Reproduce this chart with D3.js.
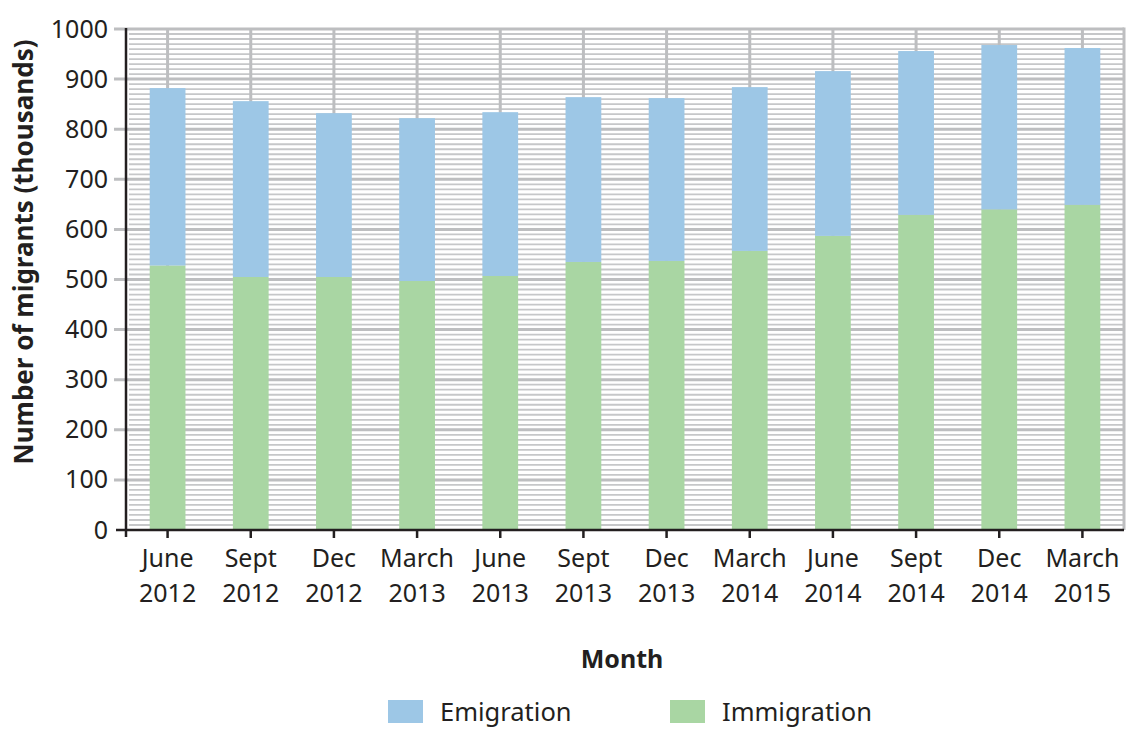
<!DOCTYPE html>
<html>
<head>
<meta charset="utf-8">
<script src="https://cdn.jsdelivr.net/npm/d3@7"></script>
<style>
  body { margin: 0; background: #fff; }
  svg { font-family: "Noto Sans", "Open Sans", sans-serif; }
</style>
</head>
<body>
<div class="chart"></div>
<script>
let months = ["June", "Sept", "Dec", "March", "June", "Sept", "Dec", "March", "June", "Sept", "Dec", "March"];
let years = ["2012", "2012", "2012", "2013", "2013", "2013", "2013", "2014", "2014", "2014", "2014", "2015"];
let immigration = [528, 505, 505, 497, 507, 535, 537, 557, 587, 629, 640, 649];
let emigration = [354, 351, 327, 325, 327, 329, 325, 327, 329, 327, 328, 313];
let yTicks = [0, 100, 200, 300, 400, 500, 600, 700, 800, 900, 1000];
let seriesNames = ["Emigration", "Immigration"];
let seriesColors = ["#9dc7e6", "#a9d6a3"];

let w = 1127;
let h = 731;
let plotLeft = 126, plotRight = 1124, plotTop = 29, plotBottom = 530;

let keys = months.map((m, i) => i);

let xScale = d3.scaleBand()
    .domain(keys)
    .range([plotLeft, plotRight])
    .paddingInner(0.57)
    .paddingOuter(0.285);

let yScale = d3.scaleLinear()
    .domain([0, 1000])
    .range([plotBottom, plotTop]);

const svg = d3.select(".chart")
    .append("svg")
    .attr("width", w)
    .attr("height", h);

// minor grid every 10
let minor = d3.range(10, 1000, 10).filter(v => v % 100 !== 0);
svg.append("g")
    .selectAll("line")
    .data(minor)
    .enter()
    .append("line")
    .attr("x1", plotLeft + 3)
    .attr("x2", plotRight)
    .attr("y1", d => yScale(d))
    .attr("y2", d => yScale(d))
    .attr("stroke", "#c6c7c9")
    .attr("stroke-width", 1.8);

// major grid
svg.append("g")
    .selectAll("line")
    .data(yTicks.slice(1))
    .enter()
    .append("line")
    .attr("x1", plotLeft - 12)
    .attr("x2", plotRight)
    .attr("y1", d => yScale(d))
    .attr("y2", d => yScale(d))
    .attr("stroke", "#bdbec0")
    .attr("stroke-width", 3);

// vertical grid at category centres + right edge
svg.append("g")
    .selectAll("line")
    .data(keys)
    .enter()
    .append("line")
    .attr("x1", d => xScale(d) + xScale.bandwidth() / 2)
    .attr("x2", d => xScale(d) + xScale.bandwidth() / 2)
    .attr("y1", yScale(1000))
    .attr("y2", yScale(0))
    .attr("stroke", "#bdbec0")
    .attr("stroke-width", 3);

svg.append("line")
    .attr("x1", plotRight).attr("x2", plotRight)
    .attr("y1", yScale(1000) - 1.5).attr("y2", yScale(0))
    .attr("stroke", "#bdbec0")
    .attr("stroke-width", 3);

// stacked bars
let stackData = keys.map(i => ({ key: i, Immigration: immigration[i], Emigration: emigration[i] }));
let stacked = d3.stack().keys(["Immigration", "Emigration"])(stackData);
let colorOf = d3.scaleOrdinal().domain(seriesNames).range(seriesColors);

svg.append("g")
    .selectAll("g")
    .data(stacked)
    .enter()
    .append("g")
    .attr("fill", d => colorOf(d.key))
    .selectAll("rect")
    .data(d => d)
    .enter()
    .append("rect")
    .attr("x", d => xScale(d.data.key))
    .attr("y", d => yScale(d[1]))
    .attr("width", xScale.bandwidth())
    .attr("height", d => yScale(d[0]) - yScale(d[1]));

// axes
const yAxis = d3.axisLeft(yScale)
    .tickValues(yTicks)
    .tickFormat(d3.format("d"))
    .tickSize(0)
    .tickPadding(18);

let gy = svg.append("g")
    .attr("transform", `translate(${plotLeft}, 0)`)
    .call(yAxis);
gy.select(".domain").attr("stroke", "#231f20").attr("stroke-width", 2.5)
    .attr("d", `M0,${plotTop - 1}V${plotBottom + 7}`);
gy.selectAll("text")
    .attr("font-size", 25)
    .attr("fill", "#231f20")
    .attr("font-family", "Noto Sans");

const xAxis = d3.axisBottom(xScale)
    .tickSize(8)
    .tickSizeOuter(0)
    .tickFormat("");

let gx = svg.append("g")
    .attr("transform", `translate(0, ${plotBottom})`)
    .call(xAxis);
gx.select(".domain").attr("stroke", "#231f20").attr("stroke-width", 2.5)
    .attr("d", `M${plotLeft - 10},0H${plotRight}`);
gx.selectAll(".tick line").attr("stroke", "#231f20").attr("stroke-width", 2.5);

let labels = gx.selectAll(".tick")
    .append("text")
    .attr("fill", "#231f20")
    .attr("font-size", 25)
    .attr("font-family", "Noto Sans")
    .attr("text-anchor", "middle");
labels.append("tspan").attr("x", 0).attr("y", 37).text(d => months[d]);
labels.append("tspan").attr("x", 0).attr("y", 72).text(d => years[d]);

// titles
svg.append("text")
    .attr("transform", "rotate(-90)")
    .attr("x", -252)
    .attr("y", 33)
    .attr("text-anchor", "middle")
    .attr("font-size", 26)
    .attr("font-weight", "bold")
    .attr("fill", "#231f20")
    .text("Number of migrants (thousands)");

svg.append("text")
    .attr("x", 622)
    .attr("y", 668)
    .attr("text-anchor", "middle")
    .attr("font-size", 25)
    .attr("font-weight", "bold")
    .attr("fill", "#231f20")
    .text("Month");

// legend
let legendX = [388, 670];
let legend = svg.append("g")
    .selectAll("g")
    .data(seriesNames)
    .enter()
    .append("g")
    .attr("transform", (d, i) => `translate(${legendX[i]}, 700)`);
legend.append("rect")
    .attr("width", 35)
    .attr("height", 23)
    .attr("fill", d => colorOf(d));
legend.append("text")
    .attr("x", 52)
    .attr("y", 21)
    .attr("font-size", 25.5)
    .attr("fill", "#231f20")
    .text(d => d);
</script>
</body>
</html>
